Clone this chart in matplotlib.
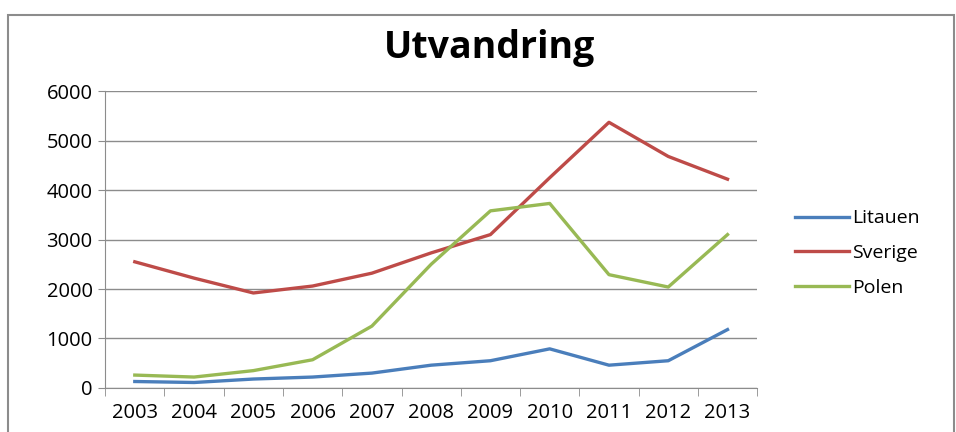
import matplotlib.pyplot as plt
from matplotlib.patches import Rectangle
import numpy as np

years = ['2003', '2004', '2005', '2006', '2007', '2008', '2009', '2010', '2011', '2012', '2013']
litauen = [130, 110, 180, 220, 300, 460, 550, 790, 460, 550, 1180]
sverige = [2550, 2220, 1920, 2060, 2320, 2730, 3100, 4250, 5370, 4680, 4220]
polen = [260, 220, 350, 570, 1250, 2500, 3580, 3730, 2290, 2040, 3100]

plt.rcParams['font.family'] = ['Open Sans', 'DejaVu Sans']

fig = plt.figure(figsize=(9.56, 4.32), dpi=100)
ax = fig.add_axes([0.110, 0.102, 0.682, 0.687])

# outer frame of the chart
fig.patches.append(Rectangle((8 / 956, -0.05), (954 - 8) / 956, 1.05 - 15 / 432,
                             transform=fig.transFigure, fill=False,
                             edgecolor='#8c8c8c', linewidth=1.5))

x = np.arange(len(years))
ax.plot(x, litauen, color='#4A7EBB', linewidth=2.4, label='Litauen')
ax.plot(x, sverige, color='#BE4B48', linewidth=2.4, label='Sverige')
ax.plot(x, polen, color='#98B954', linewidth=2.4, label='Polen')

ax.set_xlim(-0.5, len(years) - 0.5)
ax.set_ylim(0, 6000)
ax.set_yticks(range(0, 6001, 1000))
ax.set_xticks(x)
ax.set_xticklabels(years)
ax.set_xticks(np.arange(-0.5, len(years), 1), minor=True)
ax.tick_params(axis='x', which='major', length=0, labelsize=14.5, pad=11)
ax.tick_params(axis='x', which='minor', length=6, color='#8c8c8c', direction='out')
ax.tick_params(axis='y', length=5, color='#8c8c8c', labelsize=14.5, pad=4)

ax.grid(axis='y', color='#8c8c8c', linewidth=1)
ax.set_axisbelow(True)
for s in ['top', 'right']:
    ax.spines[s].set_visible(False)
ax.spines['left'].set_color('#8c8c8c')
ax.spines['bottom'].set_color('#8c8c8c')

fig.text(0.512, 0.888, 'Utvandring', ha='center', va='center',
         fontsize=27, fontweight='bold')

ax.legend(loc='center left', bbox_to_anchor=(795 / 956, 1 - 253 / 432),
          bbox_transform=fig.transFigure, frameon=False, borderpad=0,
          borderaxespad=0, fontsize=14, handlelength=2.8,
          handletextpad=0.15, labelspacing=0.85)

fig.savefig('out.png', dpi=100)
